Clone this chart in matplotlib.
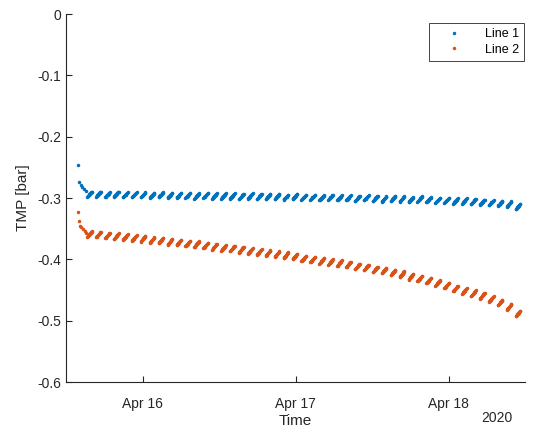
import pandas as pd
import matplotlib
matplotlib.use('Agg')
import matplotlib.pyplot as plt
import matplotlib.dates as mdates

# Start-up readings before the filtration cycles settle
LINE1_START_TIMES = ['2020-04-15 13:50', '2020-04-15 14:05', '2020-04-15 14:20',
                     '2020-04-15 14:35', '2020-04-15 14:50', '2020-04-15 15:05']
LINE1_START_TMP = [-0.246, -0.274, -0.278, -0.282, -0.285, -0.288]
LINE2_START_TIMES = ['2020-04-15 13:50', '2020-04-15 14:00', '2020-04-15 14:10',
                     '2020-04-15 14:25', '2020-04-15 14:40', '2020-04-15 14:55',
                     '2020-04-15 15:10']
LINE2_START_TMP = [-0.323, -0.338, -0.345, -0.348, -0.351, -0.354, -0.357]

# Filtration cycles: lowest TMP at the start of each cycle
CYCLE_START = '2020-04-15 15:20'
CYCLE_MINUTES = 84
LINE1_LOW = [-0.298, -0.298, -0.299, -0.298, -0.299, -0.299, -0.299, -0.300, -0.299, -0.300,
             -0.300, -0.300, -0.301, -0.300, -0.301, -0.301, -0.301, -0.302, -0.301, -0.302,
             -0.302, -0.302, -0.303, -0.302, -0.303, -0.303, -0.304, -0.303, -0.304, -0.304,
             -0.305, -0.304, -0.305, -0.306, -0.305, -0.306, -0.307, -0.306, -0.307, -0.308,
             -0.308, -0.309, -0.309, -0.310, -0.311, -0.312, -0.313, -0.314, -0.318]
LINE2_LOW = [-0.363, -0.364, -0.366, -0.367, -0.368, -0.370, -0.371, -0.373, -0.374, -0.376,
             -0.377, -0.379, -0.380, -0.382, -0.384, -0.386, -0.387, -0.389, -0.391, -0.393,
             -0.394, -0.396, -0.398, -0.400, -0.403, -0.405, -0.407, -0.409, -0.411, -0.413,
             -0.416, -0.418, -0.421, -0.423, -0.426, -0.429, -0.433, -0.436, -0.439, -0.443,
             -0.447, -0.452, -0.456, -0.460, -0.464, -0.469, -0.475, -0.482, -0.493]
LINE1_RISE = 0.0085
LINE2_RISE = 0.0092

# Sample times inside one cycle and the share of the rise reached
RAMP_MINUTES = [0, 4, 8, 12, 16, 20, 24, 28, 32, 36, 40, 44]
RAMP_FRACTION = [0.0, 0.10, 0.19, 0.28, 0.37, 0.46, 0.55, 0.64, 0.73, 0.82, 0.91, 1.0]

BLUE = '#0072BD'
ORANGE = '#D95319'
DARK = '#262626'


def build_series(start_times, start_vals, lows, rise):
    times = list(pd.to_datetime(start_times))
    vals = list(start_vals)
    t0 = pd.Timestamp(CYCLE_START)
    for i, low in enumerate(lows):
        for m, f in zip(RAMP_MINUTES, RAMP_FRACTION):
            times.append(t0 + pd.Timedelta(minutes=i * CYCLE_MINUTES + m))
            vals.append(low + rise * f)
    return times, vals


def main():
    plt.rcParams['font.family'] = ['Liberation Sans', 'DejaVu Sans']
    fig = plt.figure(figsize=(5.34, 4.28), dpi=100)
    ax = fig.add_axes([66 / 534, 46 / 428, 459 / 534, 368 / 428])

    t1, v1 = build_series(LINE1_START_TIMES, LINE1_START_TMP, LINE1_LOW, LINE1_RISE)
    t2, v2 = build_series(LINE2_START_TIMES, LINE2_START_TMP, LINE2_LOW, LINE2_RISE)
    ax.plot(t1, v1, '.', color=BLUE, ms=3.0, label='Line 1')
    ax.plot(t2, v2, '.', color=ORANGE, ms=3.0, label='Line 2')

    ax.set_xlim(pd.Timestamp('2020-04-15 12:00'), pd.Timestamp('2020-04-18 12:00'))
    ax.set_ylim(-0.6, 0)
    ax.set_yticks([-0.6, -0.5, -0.4, -0.3, -0.2, -0.1, 0])
    ax.set_yticklabels(['-0.6', '-0.5', '-0.4', '-0.3', '-0.2', '-0.1', '0'])
    ax.xaxis.set_major_locator(mdates.DayLocator())
    ax.xaxis.set_major_formatter(mdates.DateFormatter('%b %d'))

    for side in ['top', 'right']:
        ax.spines[side].set_visible(False)
    for side in ['left', 'bottom']:
        ax.spines[side].set_color(DARK)
        ax.spines[side].set_linewidth(0.8)
    ax.tick_params(direction='in', length=4, width=0.8, color=DARK,
                   labelcolor=DARK, labelsize=10)
    ax.tick_params(axis='x', pad=11)

    ax.set_xlabel('Time', fontsize=11, color=DARK, labelpad=2)
    ax.set_ylabel('TMP [bar]', fontsize=11, color=DARK, labelpad=5)
    fig.text(513 / 534, 1 - 418 / 428, '2020', ha='right', va='center',
             fontsize=10, color=DARK)

    leg = ax.legend(loc='upper right', bbox_to_anchor=(524 / 534, 1 - 23 / 428),
                    bbox_transform=fig.transFigure, borderaxespad=0,
                    fancybox=False, framealpha=1, fontsize=9, handlelength=3.2,
                    handletextpad=0.9, borderpad=0.4, labelspacing=0.3,
                    markerscale=1.0)
    leg.get_frame().set_edgecolor(DARK)
    leg.get_frame().set_linewidth(0.6)

    fig.savefig('out.png', dpi=100)


if __name__ == '__main__':
    main()
